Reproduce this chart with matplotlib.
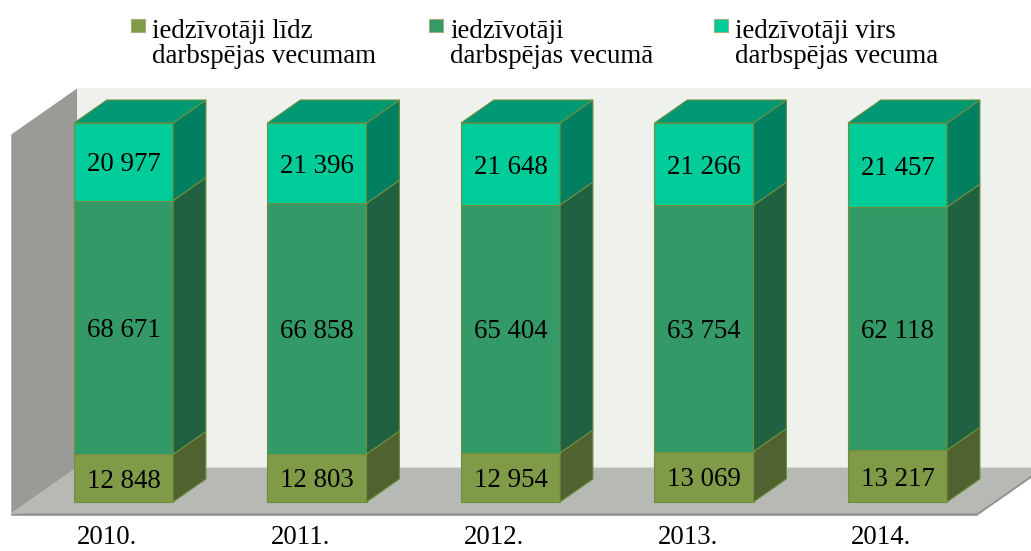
import numpy as np
import matplotlib.pyplot as plt
from matplotlib.patches import Polygon, Rectangle

# Dati
years = ["2010.", "2011.", "2012.", "2013.", "2014."]
series_names = ["iedzīvotāji līdz\ndarbspējas vecumam",
                "iedzīvotāji\ndarbspējas vecumā",
                "iedzīvotāji virs\ndarbspējas vecuma"]
lidz = [12848, 12803, 12954, 13069, 13217]
darbspejas = [68671, 66858, 65404, 63754, 62118]
virs = [20977, 21396, 21648, 21266, 21457]

front_colors = ["#7f9b47", "#339966", "#00cc99"]
side_colors = ["#4f6230", "#1f6140", "#008060"]
top_color = "#009973"
edge_color = "#6f8f3f"

W, H = 1031, 551
fig = plt.figure(figsize=(W / 100, H / 100), dpi=100)
ax = fig.add_axes([0, 0, 1, 1])
ax.set_xlim(-123.5 / 193.5, (W - 123.5) / 193.5)
ax.set_ylim((502 - H) / 3.79, 502 / 3.79)
ax.axis("off")

font = "Liberation Serif"
fs = 19.4

# 3D nobīde
ddx, ddy = 0.17, 6.07
xw, xr = -0.495, 4.496
bw = 0.512

# sienas un grīda
back = Polygon([(xw + 1.5 * ddx, 1.5 * ddy), (6, 1.5 * ddy), (6, 100 + 1.5 * ddy),
                (xw + 1.5 * ddx, 100 + 1.5 * ddy)], closed=True, fc="#eff1ec", ec="none")
left = Polygon([(xw - 0.5 * ddx, -0.5 * ddy), (xw + 1.5 * ddx, 1.5 * ddy),
                (xw + 1.5 * ddx, 100 + 1.5 * ddy), (xw - 0.5 * ddx, 100 - 0.5 * ddy)],
               closed=True, fc="#9a9b97", ec="none")
th = 0.6
floor_edge = Polygon([(xw - 0.5 * ddx, -0.5 * ddy - th), (xr - 0.5 * ddx, -0.5 * ddy - th),
                      (xr + 1.5 * ddx, 1.5 * ddy - th), (xr + 1.5 * ddx, 1.5 * ddy),
                      (xw - 0.5 * ddx, -0.5 * ddy)], closed=True, fc="#8f908d", ec="none")
floor = Polygon([(xw - 0.5 * ddx, -0.5 * ddy), (xr - 0.5 * ddx, -0.5 * ddy),
                 (xr + 1.5 * ddx, 1.5 * ddy), (xw + 1.5 * ddx, 1.5 * ddy)],
                closed=True, fc="#b7b9b4", ec="none")
for p in [back, left, floor_edge, floor]:
    ax.add_patch(p)

# stabiņi (100% sakrauti)
data = np.array([lidz, darbspejas, virs], dtype=float)
totals = data.sum(axis=0)
pct = data / totals * 100
x = np.arange(len(years))

for i in x:
    bottom = 0
    x0 = i - bw / 2
    x1 = i + bw / 2
    for s in range(3):
        h = pct[s, i]
        ax.bar(i, h, bottom=bottom, width=bw, color=front_colors[s],
               edgecolor=edge_color, linewidth=0.8, zorder=3)
        side = Polygon([(x1, bottom), (x1 + ddx, bottom + ddy), (x1 + ddx, bottom + h + ddy),
                        (x1, bottom + h)], closed=True, fc=side_colors[s],
                       ec=edge_color, lw=0.8, zorder=3)
        ax.add_patch(side)
        lbl = f"{int(data[s, i]):,}".replace(",", " ")
        ax.text(i, bottom + h / 2, lbl, ha="center", va="center_baseline", fontsize=fs,
                family=font, color="black", zorder=4)
        bottom += h
    top = Polygon([(x0, bottom), (x1, bottom), (x1 + ddx, bottom + ddy), (x0 + ddx, bottom + ddy)],
                  closed=True, fc=top_color, ec=edge_color, lw=0.8, zorder=3)
    ax.add_patch(top)
    ax.text(i - 0.5 * ddx, (502 - 544) / 3.79, years[i], ha="center", va="baseline",
            fontsize=fs, family=font, color="black")

# leģenda
leg_text_x = [152, 450, 735]
for k, name in enumerate(series_names):
    tx = leg_text_x[k]
    fig.patches.append(Rectangle(((tx - 21) / W, 1 - 32 / H), 14 / W, 13 / H,
                                 transform=fig.transFigure, fc=front_colors[k],
                                 ec="#9fb07a", lw=0.8))
    for j, line in enumerate(name.split("\n")):
        fig.text(tx / W, 1 - (38 + 25 * j) / H, line, ha="left", va="baseline",
                 fontsize=fs, family=font, color="black")

fig.savefig("out.png", dpi=100)
